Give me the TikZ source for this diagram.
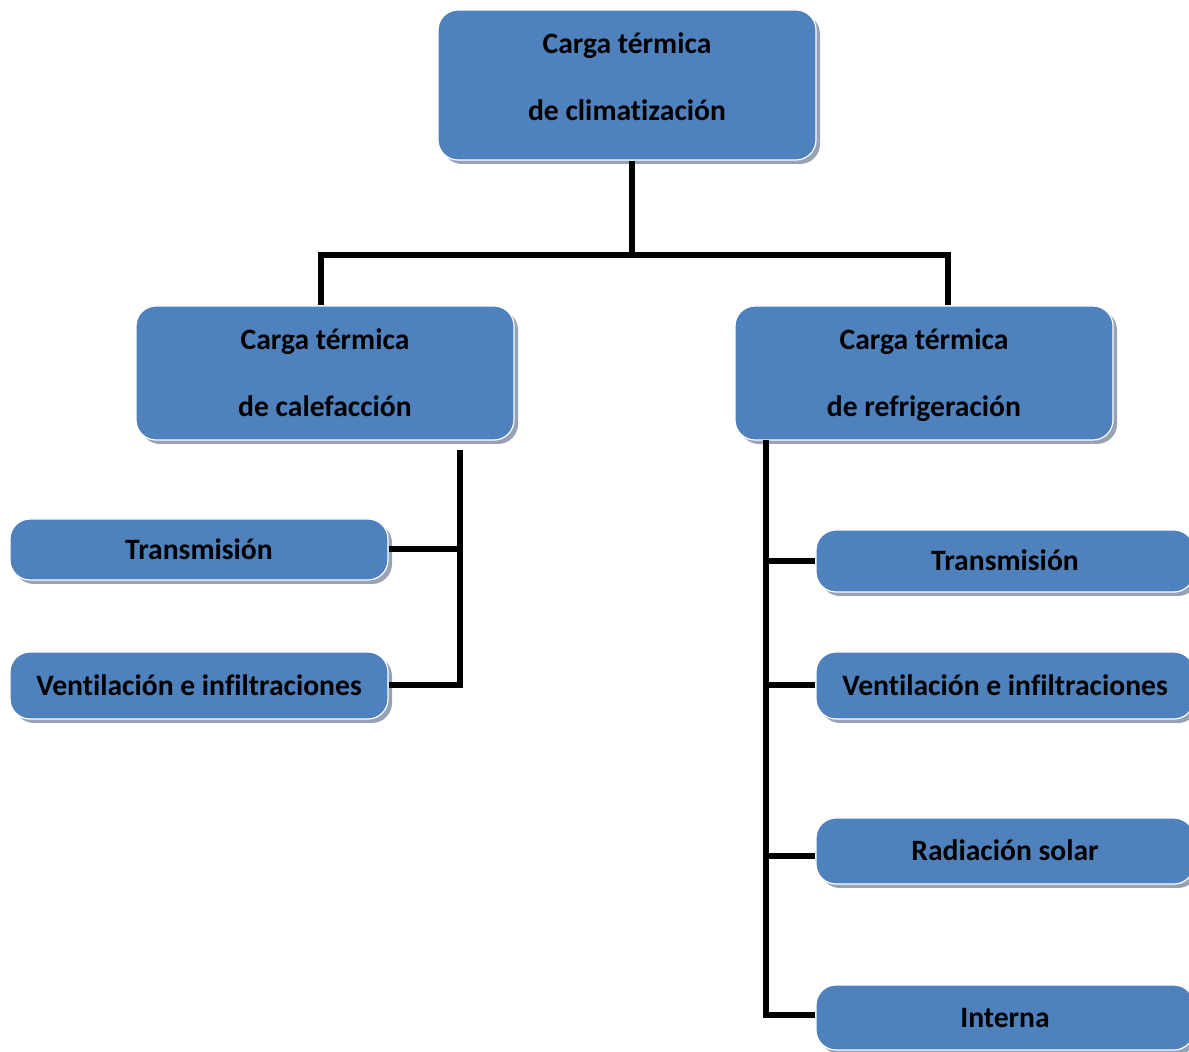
\documentclass[tikz,border=0pt]{standalone}
\usepackage{fontspec}
\setmainfont[Ligatures = NoCommon]{Carlito}
\usetikzlibrary{
    shadows,
    calc
}
\definecolor{boxblue}{HTML}{4F81BD}
\definecolor{shadowgray}{HTML}{97A3B4}
\newcommand{\boxstrut}{\vphantom{Ág}}
\tikzset {
    base box/.style = {
        rectangle, rounded corners = 10pt, fill = boxblue,
        draw = white, line width = 0.6pt,
        drop shadow = {shadow xshift = 2pt, shadow yshift = -2pt,
            fill = shadowgray, opacity = 1},
        text = black, align = center, inner sep = 0pt
    },
    big box/.style = {
        base box,
        minimum width = 189pt, minimum height = #1,
        font = \bfseries\fontsize{14.8}{33.5}\selectfont
    },
    small box/.style = {
        base box,
        minimum width = 189pt, minimum height = #1,
        font = \bfseries\fontsize{14.8}{17}\selectfont
    },
    link/.style = {line width = 3pt, black}
}

\begin{document}
\begin{tikzpicture}[x = 0.5pt, y = -0.5pt]
    \useasboundingbox (0, 0) rectangle (1189, 1052);
    % boxes
    \node (clim) [big box = 75pt] at (627, 85)
        {Carga térmica\boxstrut\\de climatización\boxstrut\rule[-10pt]{0pt}{0pt}};
    \node (calef) [big box = 67pt] at (325, 373)
        {Carga térmica\boxstrut\\de calefacción\boxstrut};
    \node (refrig) [big box = 67pt] at (924, 373)
        {Carga térmica\boxstrut\\de refrigeración\boxstrut};
    %
    \node (transL) [small box = 30.5pt] at (199, 549.5) {Transmisión\boxstrut};
    \node (ventL) [small box = 33.5pt] at (199, 685.5) {Ventilación e infiltraciones\boxstrut};
    %
    \node (transR) [small box = 31pt] at (1005, 561) {Transmisión\boxstrut};
    \node (ventR) [small box = 33.5pt] at (1005, 685.5) {Ventilación e infiltraciones\boxstrut};
    \node (radR) [small box = 33pt] at (1005, 851) {Radiación solar\boxstrut};
    \node (intR) [small box = 32.5pt] at (1005, 1017.5) {Interna\boxstrut};
    % connectors
    \coordinate (jL) at (321, 255);
    \coordinate (jR) at (948, 255);
    \coordinate (jM) at (632, 255);
    \coordinate (bL) at (460, 450);
    \coordinate (bR) at (766, 440);
    \draw [link] (jM |- clim.south) -- (jM);
    \draw [link] (jL |- calef.north) -- (jL) -- (jR) -- (jR |- refrig.north);
    %
    \draw [link] (bL) |- (ventL.east);
    \draw [link] (transL.east) -- (transL.east -| bL);
    %
    \draw [link] (bR) |- ($(intR.west) + (0, -3)$);
    \draw [link] (transR.west) -- (transR.west -| bR);
    \draw [link] (ventR.west) -- (ventR.west -| bR);
    \draw [link] ($(radR.west) + (0, 5)$) -- ($(radR.west -| bR) + (0, 5)$);
\end{tikzpicture}
\end{document}
